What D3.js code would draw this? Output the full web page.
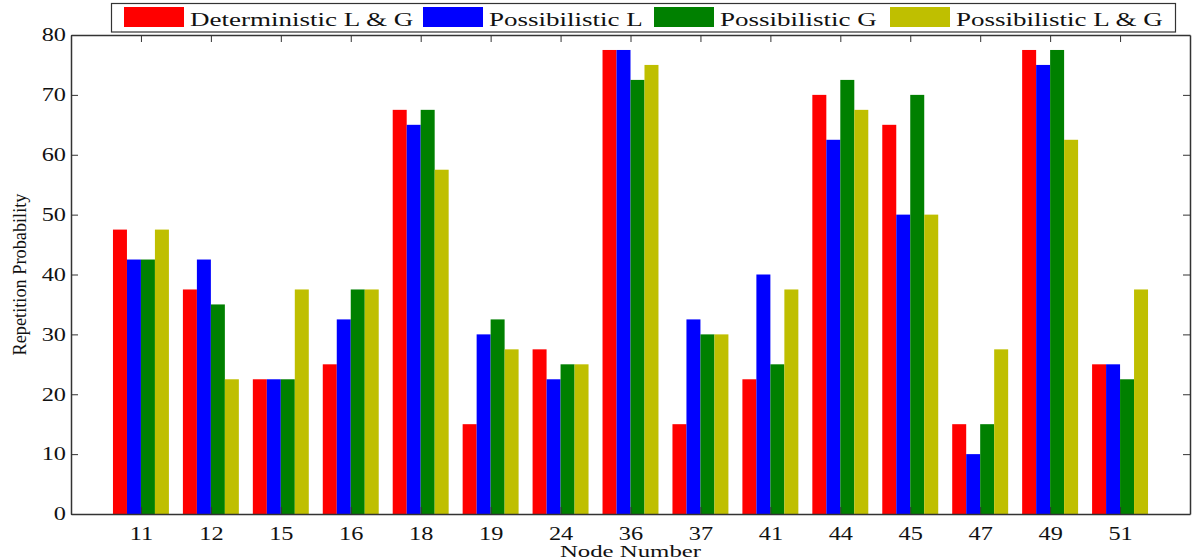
<!DOCTYPE html>
<html>
<head>
<meta charset="utf-8">
<script src="https://cdn.jsdelivr.net/npm/d3@7"></script>
<style>
  body { margin: 0; background: #fff; }
  text { font-family: "Liberation Serif", "Times New Roman", serif; fill: #111; }
</style>
</head>
<body>
<div id="chart"></div>
<script>
// node numbers on the x axis
var nodes = ["11", "12", "15", "16", "18", "19", "24", "36", "37", "41", "44", "45", "47", "49", "51"];
var seriesNames = ["Deterministic L & G", "Possibilistic L", "Possibilistic G", "Possibilistic L & G"];
var colors = ["#ff0000", "#0000ff", "#008000", "#bfbf00"];

var deterministicLG = [47.5, 37.5, 22.5, 25, 67.5, 15, 27.5, 77.5, 15, 22.5, 70, 65, 15, 77.5, 25];
var possibilisticL  = [42.5, 42.5, 22.5, 32.5, 65, 30, 22.5, 77.5, 32.5, 40, 62.5, 50, 10, 75, 25];
var possibilisticG  = [42.5, 35, 22.5, 37.5, 67.5, 32.5, 25, 72.5, 30, 25, 72.5, 70, 15, 77.5, 22.5];
var possibilisticLG = [47.5, 22.5, 37.5, 37.5, 57.5, 27.5, 25, 75, 30, 37.5, 67.5, 50, 27.5, 62.5, 37.5];
var series = [deterministicLG, possibilisticL, possibilisticG, possibilisticLG];

var yTicks = [0, 10, 20, 30, 40, 50, 60, 70, 80];

var W = 1197, H = 559;
var margin = {top: 35, right: 7, bottom: 45, left: 71};
var width = W - margin.left - margin.right,
    height = H - margin.top - margin.bottom;

// the original figure is stretched sideways, so widen the text the same way
function stretch(sel, k) {
  sel.each(function() {
    var len = this.getComputedTextLength();
    if (len > 0) {
      d3.select(this)
        .attr("textLength", len * k)
        .attr("lengthAdjust", "spacingAndGlyphs");
    }
  });
}

var svg = d3.select("#chart").append("svg")
  .attr("width", W)
  .attr("height", H);

var g = svg.append("g")
  .attr("transform", "translate(" + margin.left + "," + margin.top + ")");

// MATLAB style: categories at 1..15, limits 0..16
var x = d3.scaleLinear().domain([0, nodes.length + 1]).range([0, width]);
var y = d3.scaleLinear().domain([0, 80]).range([height, 0]);

var barW = x(0.2) - x(0);

// bars
series.forEach(function(vals, si) {
  g.selectAll(".bar" + si)
    .data(vals)
    .enter().append("rect")
    .attr("class", "bar" + si)
    .attr("x", function(d, i) { return x(i + 1 - 0.4 + si * 0.2); })
    .attr("width", barW)
    .attr("y", function(d) { return y(d); })
    .attr("height", function(d) { return y(0) - y(d); })
    .attr("fill", colors[si]);
});

// axes (ticks inside, mirrored on top and right)
var xAxisB = d3.axisBottom(x)
  .tickValues(d3.range(1, nodes.length + 1))
  .tickFormat(function(d) { return nodes[d - 1]; })
  .tickSizeInner(-7).tickSizeOuter(0).tickPadding(13);
var xAxisT = d3.axisTop(x)
  .tickValues(d3.range(1, nodes.length + 1))
  .tickFormat("")
  .tickSizeInner(-7).tickSizeOuter(0);
var yAxisL = d3.axisLeft(y).tickValues(yTicks)
  .tickSizeInner(-7).tickSizeOuter(0).tickPadding(5);
var yAxisR = d3.axisRight(y).tickValues(yTicks).tickFormat("")
  .tickSizeInner(-7).tickSizeOuter(0);

g.append("g").attr("transform", "translate(0," + height + ")").call(xAxisB);
g.append("g").call(xAxisT);
g.append("g").call(yAxisL);
g.append("g").attr("transform", "translate(" + width + ",0)").call(yAxisR);

g.selectAll(".domain").attr("stroke", "#333").attr("stroke-width", 1.5);
g.selectAll(".tick line").attr("stroke", "#333");
g.selectAll(".tick text")
  .style("font-family", "Liberation Serif, serif")
  .style("font-size", "18px")
  .attr("fill", "#111")
  .call(stretch, 1.35);

// axis titles
g.append("text")
  .attr("transform", "rotate(-90)")
  .attr("x", -height / 2)
  .attr("y", -45)
  .attr("text-anchor", "middle")
  .style("font-size", "18px")
  .attr("textLength", 162)
  .attr("lengthAdjust", "spacingAndGlyphs")
  .text("Repetition Probability");

g.append("text")
  .attr("x", width / 2)
  .attr("y", height + 43)
  .attr("text-anchor", "middle")
  .style("font-size", "16px")
  .text("Node Number")
  .call(stretch, 1.55);

// legend
var legend = svg.append("g");
legend.append("rect")
  .attr("x", 111.5).attr("y", 3.5)
  .attr("width", 1064).attr("height", 28.5)
  .attr("fill", "#fff").attr("stroke", "#333").attr("stroke-width", 1.2);

var legendX = [124, 423, 654, 890];
seriesNames.forEach(function(name, i) {
  legend.append("rect")
    .attr("x", legendX[i]).attr("y", 7)
    .attr("width", 60).attr("height", 20)
    .attr("fill", colors[i]);
  legend.append("text")
    .attr("x", legendX[i] + 66).attr("y", 26)
    .style("font-size", "18px")
    .text(name)
    .call(stretch, 1.5);
});
</script>
</body>
</html>
